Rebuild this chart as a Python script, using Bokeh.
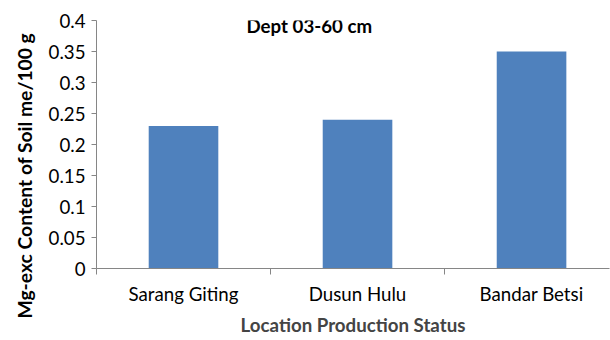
from bokeh.plotting import figure
from bokeh.models import (Range1d, FixedTicker, LinearAxis, Title,
                          CustomJSTickFormatter, Label, ColumnDataSource)
from bokeh.embed import file_html
from bokeh.resources import INLINE

locations = ["Sarang Giting", "Dusun Hulu", "Bandar Betsi"]
mg_exc = [0.23, 0.24, 0.35]
y_ticks = [0, 0.05, 0.1, 0.15, 0.2, 0.25, 0.3, 0.35, 0.4]

FONT = "Lato"
FS = "18.7px"
AXIS_COLOR = "#868686"
BAR_COLOR = "#4F81BD"

n = len(locations)
centers = [i + 0.5 for i in range(n)]
boundaries = list(range(n + 1))

src = ColumnDataSource(dict(x=centers, val=mg_exc, loc=locations))

p = figure(width=610, height=340, x_range=Range1d(0, 2.948),
           y_range=Range1d(0, 0.4), output_backend="svg", toolbar_location=None,
           x_axis_location=None, min_border_left=96, min_border_right=1,
           min_border_top=20, min_border_bottom=72)
p.outline_line_color = None
p.xgrid.visible = False
p.ygrid.visible = False
p.background_fill_color = "white"
p.border_fill_color = "white"

p.vbar(x="x", top="val", width=0.40, source=src, fill_color=BAR_COLOR, line_color=None)

# y axis
ya = p.yaxis[0]
ya.ticker = FixedTicker(ticks=y_ticks, minor_ticks=[])
ya.formatter = CustomJSTickFormatter(code="return String(+tick.toFixed(2));")
ya.axis_line_color = AXIS_COLOR
ya.major_tick_line_color = AXIS_COLOR
ya.major_tick_out = 5
ya.major_tick_in = 0
ya.minor_tick_line_color = None
ya.major_label_text_font = FONT
ya.major_label_text_font_size = FS
ya.major_label_text_color = "black"
ya.major_label_standoff = 6

# x axis: boundary ticks
tick_axis = LinearAxis(ticker=FixedTicker(ticks=boundaries, minor_ticks=[]),
                       major_tick_out=6, major_tick_in=0, major_tick_line_color=AXIS_COLOR,
                       axis_line_color=AXIS_COLOR, minor_tick_line_color=None,
                       formatter=CustomJSTickFormatter(code="return '';"),
                       major_label_text_font_size="1px", major_label_standoff=0)
p.add_layout(tick_axis, "below")

# x axis: category labels
label_axis = LinearAxis(ticker=FixedTicker(ticks=centers, minor_ticks=[]),
                        formatter=CustomJSTickFormatter(args=dict(names=locations),
                                                        code="return names[Math.floor(tick)];"),
                        axis_line_color=None, major_tick_line_color=None,
                        minor_tick_line_color=None, major_tick_out=0, major_tick_in=0,
                        major_label_text_font=FONT, major_label_text_font_size=FS,
                        major_label_text_color="black", major_label_standoff=8,
                        axis_label="Location Production Status",
                        axis_label_text_font=FONT, axis_label_text_font_size=FS,
                        axis_label_text_font_style="bold", axis_label_standoff=6)
p.add_layout(label_axis, "below")

# y axis title
p.add_layout(Title(text="Mg-exc Content of Soil me/100 g", align="left", offset=-50,
                   text_font=FONT, text_font_size="19.3px", text_font_style="bold",
                   text_color="black", standoff=20), "left")

# chart title
p.add_layout(Label(x=150, y=243, x_units="screen", y_units="screen",
                   text="Dept 03-60 cm", text_align="left", text_baseline="middle",
                   text_font=FONT, text_font_size=FS, text_font_style="bold",
                   text_color="black"))

open("out.html", "w").write(file_html(p, INLINE))
